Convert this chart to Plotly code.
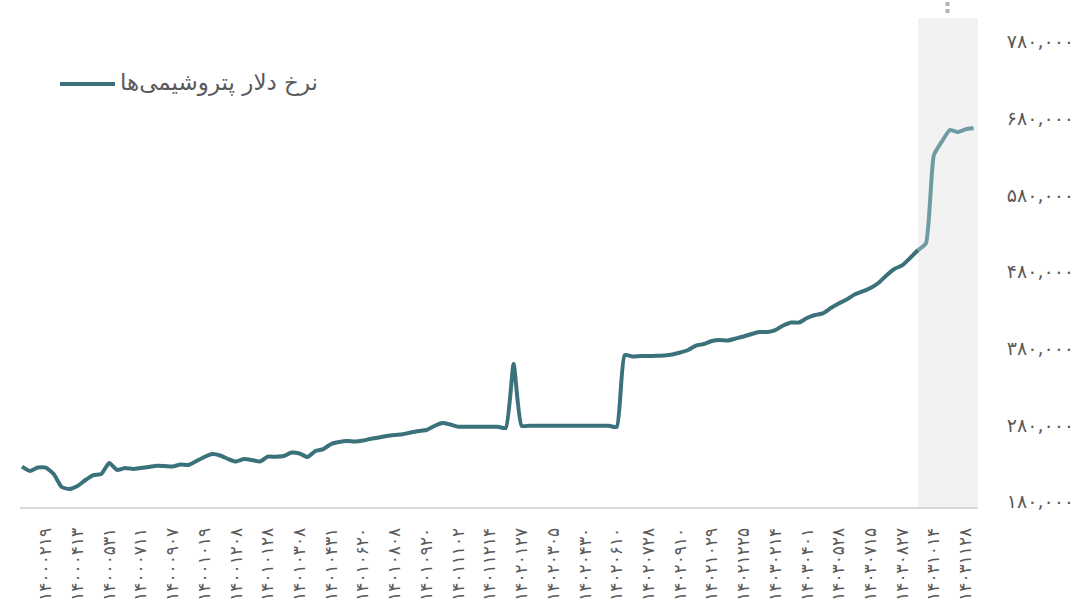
import plotly.graph_objects as go

# Petrochemical dollar rate, sampled on a uniform index (4 samples per labelled date)
rate = [
    225700, 220000, 224600, 224600, 216100, 199200, 196600, 200500, 208300, 214800,
    216100, 230500, 221300, 224000, 222700, 224000, 225300, 227000, 226600, 225900,
    228500, 227900, 233100, 238300, 242200, 240300, 235700, 232400, 235700, 234400,
    232400, 238700, 238700, 239600, 244200, 242900, 238300, 246100, 248700, 255300,
    257900, 259200, 258500, 259800, 262200, 263700, 265700, 267000, 267900, 270300,
    272200, 273500, 278700, 282600, 280700, 277800, 277800, 277800, 277800, 277800,
    277800, 276100, 359600, 279100, 279100, 279100, 279100, 279100, 279100, 279100,
    279100, 279100, 279100, 279100, 279100, 277400, 371300, 369400, 370000, 370000,
    370300, 370700, 372000, 374600, 377900, 383700, 385700, 389600, 390900, 390300,
    392900, 395500, 398700, 401300, 401300, 403900, 409800, 413700, 413700, 419600,
    423500, 425700, 432600, 438500, 443700, 450300, 454200, 458700, 465300, 475000,
    483500, 488300, 497900, 508300, 517400, 632200, 649800, 664800, 662200, 665700,
    667400,
]

date_labels = [
    "۱۴۰۰۰۲۱۹", "۱۴۰۰۰۴۱۳", "۱۴۰۰۰۵۳۱", "۱۴۰۰۰۷۱۱", "۱۴۰۰۰۹۰۷", "۱۴۰۰۱۰۱۹",
    "۱۴۰۰۱۲۰۸", "۱۴۰۱۰۱۲۸", "۱۴۰۱۰۳۰۸", "۱۴۰۱۰۴۳۱", "۱۴۰۱۰۶۲۰", "۱۴۰۱۰۸۰۸",
    "۱۴۰۱۰۹۲۰", "۱۴۰۱۱۱۰۲", "۱۴۰۱۱۲۱۴", "۱۴۰۲۰۱۲۷", "۱۴۰۲۰۳۰۵", "۱۴۰۲۰۴۳۰",
    "۱۴۰۲۰۶۱۰", "۱۴۰۲۰۷۲۸", "۱۴۰۲۰۹۱۰", "۱۴۰۲۱۰۲۹", "۱۴۰۲۱۲۲۵", "۱۴۰۳۰۲۱۴",
    "۱۴۰۳۰۴۰۱", "۱۴۰۳۰۵۲۸", "۱۴۰۳۰۷۱۵", "۱۴۰۳۰۸۲۷", "۱۴۰۳۱۰۱۴", "۱۴۰۳۱۱۲۸",
]
first_label_index = 3
label_step = 4
highlight_from = 113          # start of the highlighted recent period

y_ticks = [180000, 280000, 380000, 480000, 580000, 680000, 780000]
y_range = [173100, 810900]

series_name = "نرخ دلار پتروشیمی‌ها"

DARK = "#3b717a"
LIGHT = "#6f9ca3"
TEXT = "#5a5a5a"
FONT = "DejaVu Sans, sans-serif"

W, H = 1077, 606
ML, MR, MT, MB = 20, 99, 18, 99
PW, PH = W - ML - MR, H - MT - MB

def to_fa(s):
    return str(s).translate(str.maketrans("0123456789", "۰۱۲۳۴۵۶۷۸۹"))

def px_x(px):
    return (px - ML) / PW

def px_y(py):
    return (MT + PH - py) / PH

idx = list(range(len(rate)))
tick_pos = [first_label_index + k * label_step for k in range(len(date_labels))]

fig = go.Figure()
fig.add_trace(go.Scatter(
    x=idx[:highlight_from + 1], y=rate[:highlight_from + 1], mode="lines",
    line=dict(color=DARK, width=4, shape="spline", smoothing=0.5),
    name=series_name, showlegend=False, hoverinfo="skip",
))
fig.add_trace(go.Scatter(
    x=idx[highlight_from:], y=rate[highlight_from:], mode="lines",
    line=dict(color=LIGHT, width=4, shape="spline", smoothing=0.5),
    showlegend=False, hoverinfo="skip",
))

shapes = [
    # highlighted recent period
    dict(type="rect", xref="x", yref="paper", x0=highlight_from, x1=idx[-1] + 0.56,
         y0=0, y1=1, fillcolor="#f2f2f2", line=dict(width=0), layer="below"),
    # legend key
    dict(type="line", xref="paper", yref="paper", x0=px_x(60), x1=px_x(115),
         y0=px_y(84), y1=px_y(84), line=dict(color=DARK, width=4)),
]
# small dotted marker above the highlighted period
for top, bot in [(2, 6), (9, 13)]:
    shapes.append(dict(type="rect", xref="paper", yref="paper",
                       x0=px_x(945.5), x1=px_x(949.5), y0=px_y(bot), y1=px_y(top),
                       fillcolor="#b3b3b3", line=dict(width=0)))

fig.update_layout(
    width=W, height=H,
    margin=dict(l=ML, r=MR, t=MT, b=MB, autoexpand=False),
    paper_bgcolor="white", plot_bgcolor="white",
    font=dict(family=FONT, color=TEXT),
    shapes=shapes,
    annotations=[dict(
        text=series_name, xref="paper", yref="paper", x=px_x(118), y=px_y(82),
        xanchor="left", yanchor="middle", showarrow=False,
        font=dict(size=23, color=TEXT, family=FONT),
    )],
    xaxis=dict(
        range=[-0.25, idx[-1] + 0.56], tickmode="array",
        tickvals=tick_pos, ticktext=date_labels, tickangle=-90,
        ticks="outside", ticklen=12, tickcolor="rgba(0,0,0,0)",
        tickfont=dict(size=17, color=TEXT, family=FONT),
        showgrid=False, zeroline=False, showline=True,
        linecolor="#d9d9d9", linewidth=2, automargin=False,
    ),
    yaxis=dict(
        range=y_range, side="right", tickmode="array",
        tickvals=y_ticks, ticktext=[to_fa(f"{v:,}") for v in y_ticks],
        ticks="outside", ticklen=24, tickcolor="rgba(0,0,0,0)",
        tickfont=dict(size=19, color=TEXT, family=FONT),
        showgrid=False, zeroline=False, showline=False, automargin=False,
    ),
)

fig.write_html("out.html")
